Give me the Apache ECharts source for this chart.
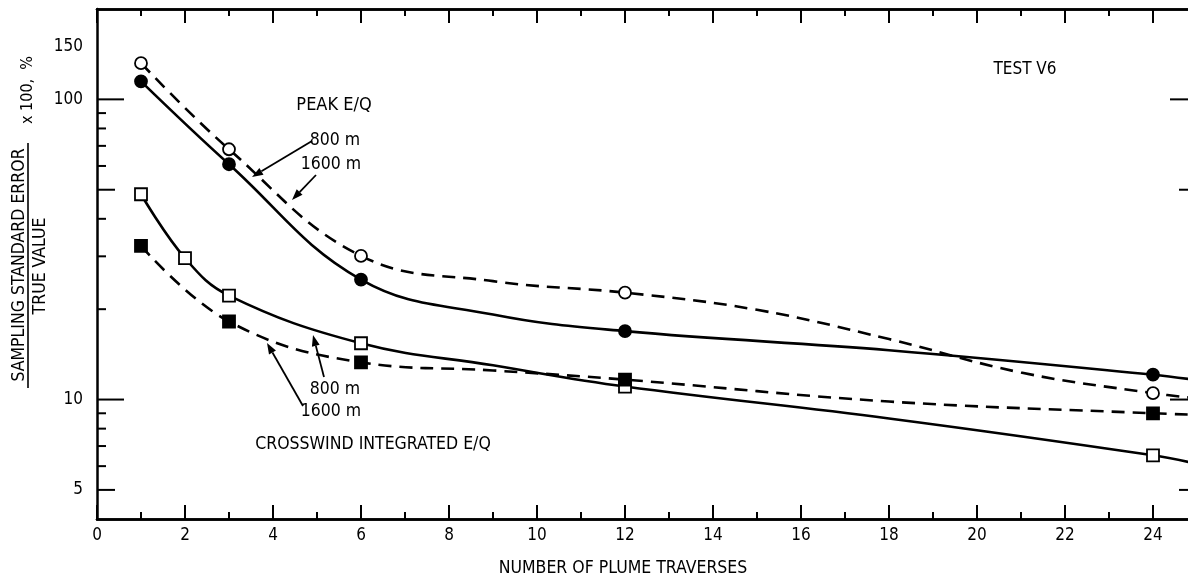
<!DOCTYPE html>
<html><head><meta charset="utf-8">
<script src="https://cdn.jsdelivr.net/npm/echarts@6/dist/echarts.min.js"></script>
<style>html,body{margin:0;padding:0;background:#fff}#c{width:1188px;height:579px}</style>
</head><body><div id="c"></div>
<script>
const FONT = "'DejaVu Sans Condensed','Liberation Sans Narrow','DejaVu Sans',sans-serif";

// ---- axis ticks / labels ----
const xMajorTicks = [0,2,4,6,8,10,12,14,16,18,20,22,24];
const yTickValues = [5,6,7,8,9,10,20,30,40,50,60,70,80,90,100];
const yTickLabels = [5,10,100,150];

// ---- measured points (markers) ----
const peak800Points  = [[1,114.8],[3,60.8],[6,25.1],[12,16.9],[24,12.1]];
const peak1600Points = [[1,132],[3,68.2],[6,30.1],[12,22.7],[24,10.5]];
const cw800Points    = [[1,48.3],[2,29.6],[3,22.2],[6,15.4],[12,11.05],[24,6.52]];
const cw1600Points   = [[1,32.5],[3,18.2],[6,13.3],[12,11.65],[24,9.0]];

// ---- hand-drawn fitted curves ----
const peak800Curve  = [[1,114.8],[3,60.8],[6,25.1],[9,19.2],[12,16.9],[18,14.6],[24,12.1],[25,11.6]];
const peak1600Curve = [[1,132],[3,68.2],[6,30.1],[9,24.8],[12,22.7],[15,19.9],[18,15.9],[21,12.3],[24,10.5],[25,10.1]];
const cw800Curve    = [[1,48.3],[2,29.6],[3,22.2],[6,15.4],[9,13.0],[12,11.05],[18,8.65],[24,6.52],[25,6.1]];
const cw1600Curve   = [[1,32.5],[3,18.2],[6,13.3],[9,12.5],[12,11.65],[18,9.85],[24,9.0],[25,8.9]];

const X_MIN = 0, X_MAX = 25;

function tickLen(v){
  if (v === 10 || v === 100) return 27;
  if (v === 5 || v === 50) return 18;
  return 9;
}

const lineBase = {type:'line', showSymbol:false, smooth:0.4, clip:true, z:2, silent:true};
function curve(name, data, dashed){
  return Object.assign({}, lineBase, {name, data,
    lineStyle:{color:'#000', width:2.6, type: dashed ? [13,8] : 'solid'}});
}
function marks(name, data, symbol, filled){
  return {type:'scatter', name, data, symbol, symbolSize:12, z:5, silent:true,
    itemStyle:{color: filled ? '#000' : '#fff', borderColor:'#000', borderWidth:1.8, opacity:1}};
}

const xAxisCommon = {type:'value', min:X_MIN, max:X_MAX, splitLine:{show:false},
  axisLine:{show:true, lineStyle:{color:'#000', width:2.5}}};

const option = {
  animation:false,
  backgroundColor:'#fff',
  grid:{left:97, width:1100, top:9, bottom:60, containLabel:false, outerBoundsMode:'none'},
  xAxis:[
    Object.assign({}, xAxisCommon, {position:'bottom', interval:2,
      axisTick:{show:true, inside:true, length:14, lineStyle:{color:'#000', width:2}},
      axisLabel:{show:true, margin:8, color:'#000', fontSize:17, fontFamily:FONT,
        formatter: v => xMajorTicks.indexOf(v) >= 0 ? String(v) : ''}}),
    Object.assign({}, xAxisCommon, {position:'bottom', interval:1,
      axisTick:{show:true, inside:true, length:7, lineStyle:{color:'#000', width:2}},
      axisLabel:{show:false}}),
    Object.assign({}, xAxisCommon, {position:'top', interval:2,
      axisTick:{show:true, inside:true, length:14, lineStyle:{color:'#000', width:2}},
      axisLabel:{show:false}}),
    Object.assign({}, xAxisCommon, {position:'top', interval:1,
      axisTick:{show:true, inside:true, length:7, lineStyle:{color:'#000', width:2}},
      axisLabel:{show:false}})
  ],
  yAxis:[{type:'log', logBase:10, min:4, max:200, splitLine:{show:false},
    axisLine:{show:true, lineStyle:{color:'#000', width:2.5}},
    axisTick:{show:false}, axisLabel:{show:false}}],
  series:[
    curve('Peak 800 m', peak800Curve, false),
    curve('Peak 1600 m', peak1600Curve, true),
    curve('Crosswind 800 m', cw800Curve, false),
    curve('Crosswind 1600 m', cw1600Curve, true),
    marks('Peak 800 m pts', peak800Points, 'circle', true),
    marks('Peak 1600 m pts', peak1600Points, 'circle', false),
    marks('Crosswind 800 m pts', cw800Points, 'rect', false),
    marks('Crosswind 1600 m pts', cw1600Points, 'rect', true),
    {type:'custom', name:'yticks', clip:false, silent:true, z:3,
      data: yTickValues.map(v => [X_MIN, v]),
      renderItem:(params, api) => {
        const v = api.value(1);
        const L = api.coord([X_MIN, v]);
        const R = api.coord([X_MAX, v]);
        const len = tickLen(v);
        return {type:'group', children:[
          {type:'line', shape:{x1:L[0], y1:L[1], x2:L[0]+len, y2:L[1]}, style:{stroke:'#000', lineWidth:2}},
          {type:'line', shape:{x1:R[0], y1:R[1], x2:R[0]-len, y2:R[1]}, style:{stroke:'#000', lineWidth:2}}
        ]};
      }},
    {type:'custom', name:'ylabels', clip:false, silent:true, z:3,
      data: yTickLabels.map(v => [X_MIN, v]),
      renderItem:(params, api) => {
        const v = api.value(1);
        const p = api.coord([X_MIN, v]);
        return {type:'text', x:p[0]-14, y:p[1],
          style:{text:String(v), fill:'#000', fontSize:17, fontFamily:FONT, align:'right', verticalAlign:'middle'}};
      }}
  ]
};

function txt(text, x, y, size, extra){
  return Object.assign({type:'text', x, y, style:{text, fill:'#000', fontSize:size, fontFamily:FONT,
    align:'center', verticalAlign:'middle'}}, extra||{});
}
function arrow(x1,y1,x2,y2){
  const a = Math.atan2(y2-y1, x2-x1), hl = 11, hw = 4;
  const bx = x2 - hl*Math.cos(a), by = y2 - hl*Math.sin(a);
  const nx = -Math.sin(a)*hw, ny = Math.cos(a)*hw;
  return [
    {type:'line', shape:{x1, y1, x2:bx, y2:by}, style:{stroke:'#000', lineWidth:1.8}},
    {type:'polygon', shape:{points:[[x2,y2],[bx+nx,by+ny],[bx-nx,by-ny]]}, style:{fill:'#000'}}
  ];
}

option.graphic = [
  txt('NUMBER OF PLUME TRAVERSES', 623, 568, 17.5),
  txt('TEST V6', 1025, 70, 17),
  txt('PEAK E/Q', 334, 105, 18),
  txt('800 m', 335, 140, 17.5),
  txt('1600 m', 331, 164, 17.5),
  txt('800 m', 335, 389, 17.5),
  txt('1600 m', 331, 411, 17.5),
  txt('CROSSWIND INTEGRATED E/Q', 373, 444, 17.5),
  txt('SAMPLING STANDARD ERROR', 19, 265, 17.5, {rotation:Math.PI/2}),
  txt('TRUE VALUE', 40, 266, 17.5, {rotation:Math.PI/2}),
  txt('x 100,  %', 28, 90, 16, {rotation:Math.PI/2}),
  {type:'line', shape:{x1:28, y1:143, x2:28, y2:388}, style:{stroke:'#000', lineWidth:1.6}},
  ...arrow(312,141,252,177),
  ...arrow(316,175,292,200),
  ...arrow(324,377,313,335),
  ...arrow(303,406,267,343)
];

const chart = echarts.init(document.getElementById('c'), null, {renderer:'canvas'});
chart.setOption(option);
</script></body></html>
